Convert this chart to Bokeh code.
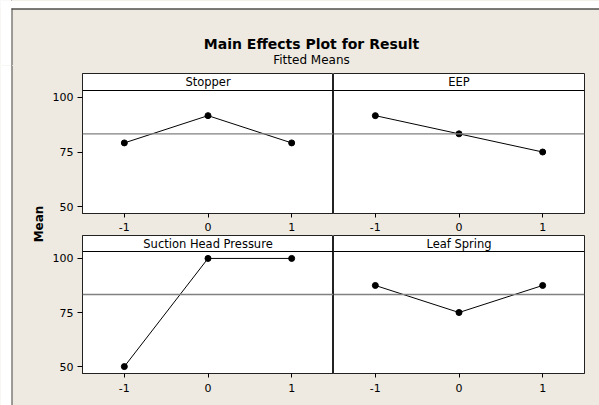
import numpy as np
from bokeh.plotting import figure
from bokeh.layouts import row, column
from bokeh.models import Range1d, Span, FixedTicker
from bokeh.core.properties import value
from bokeh.embed import file_html
from bokeh.resources import INLINE

# ---------------- data ----------------
factors = ["Stopper", "EEP", "Suction Head Pressure", "Leaf Spring"]
levels = [-1, 0, 1]
stopper = [79.17, 91.67, 79.17]
eep = [91.67, 83.33, 75.0]
suction = [50.0, 100.0, 100.0]
leaf = [87.5, 75.0, 87.5]
y_ticks = [50, 75, 100]
x_tick_labels = ["-1", "0", "1"]
title_text = "Main Effects Plot for Result"
subtitle_text = "Fitted Means"
ylabel_text = "Mean"

grand_mean = float(np.mean(stopper + eep + suction + leaf))

# ---------------- style ----------------
BG = "#EEEAE1"
FONT = "DejaVu Sans"
Y_LO = 46.8
STRIP_LINE = 103.2

W = 599
H = 405
LEFT_W = 48
HEAD_H = 65
SPLIT = 235


def deco_fig(w, h):
    p = figure(width=w, height=h, x_range=Range1d(0, w), y_range=Range1d(h, 0),
               output_backend="svg", toolbar_location=None, title=None,
               x_axis_location=None, y_axis_location=None,
               min_border_left=0, min_border_right=0, min_border_top=0, min_border_bottom=0)
    p.background_fill_color = BG
    p.border_fill_color = BG
    p.outline_line_color = None
    p.xgrid.visible = False
    p.ygrid.visible = False
    return p


# header: white margin, frame lines, title and subtitle
head = deco_fig(W, HEAD_H)
head.quad(left=[0], right=[W], top=[0], bottom=[8], fill_color="white", line_color=None)
head.quad(left=[0], right=[11], top=[0], bottom=[HEAD_H], fill_color="white", line_color=None)
head.segment(x0=[11], y0=[8.5], x1=[W], y1=[8.5], line_color="black", line_width=1)
head.segment(x0=[11.5], y0=[8], x1=[11.5], y1=[HEAD_H], line_color="#444444", line_width=1)
head.text(x=[311], y=[43], text=[title_text], text_font=value(FONT), text_font_style="bold",
          text_font_size="14px", text_align="center", text_baseline="alphabetic", text_color="black")
head.text(x=[311], y=[59], text=[subtitle_text], text_font=value(FONT),
          text_font_size="12px", text_align="center", text_baseline="alphabetic", text_color="black")

# left column: white margin, frame line, y label
left = deco_fig(LEFT_W, H - HEAD_H)
left.quad(left=[0], right=[11], top=[0], bottom=[H - HEAD_H], fill_color="white", line_color=None)
left.segment(x0=[11.5], y0=[0], x1=[11.5], y1=[H - HEAD_H], line_color="#444444", line_width=1)
left.text(x=[38], y=[223.5 - HEAD_H], text=[ylabel_text], angle=np.pi / 2,
          text_font=value(FONT), text_font_style="bold", text_font_size="12px",
          text_align="center", text_baseline="middle", text_color="black")


def panel(name, vals, w, h, mbl, mbr, mbt, mbb, y_end, show_y, x_standoff):
    p = figure(width=w, height=h, x_range=Range1d(-1.5, 1.5), y_range=Range1d(Y_LO, y_end),
               output_backend="svg", toolbar_location=None, title=None,
               x_axis_location="below", y_axis_location="left" if show_y else None,
               min_border_left=mbl, min_border_right=mbr, min_border_top=mbt, min_border_bottom=mbb)
    p.background_fill_color = "white"
    p.border_fill_color = BG
    p.outline_line_color = "#222222"
    p.outline_line_width = 1
    p.xgrid.visible = False
    p.ygrid.visible = False

    p.xaxis.ticker = FixedTicker(ticks=levels)
    p.xaxis.major_label_overrides = {lv: lab for lv, lab in zip(levels, x_tick_labels)}
    p.xaxis.major_label_standoff = x_standoff
    p.xaxis.major_tick_out = 4
    axes = [p.xaxis[0]]
    if show_y:
        p.yaxis.ticker = FixedTicker(ticks=y_ticks)
        p.yaxis.major_label_standoff = 4
        p.yaxis.major_tick_out = 5
        axes.append(p.yaxis[0])
    for ax in axes:
        ax.minor_tick_line_color = None
        ax.major_tick_in = 0
        ax.major_tick_line_color = "black"
        ax.axis_line_color = "#222222"
        ax.major_label_text_font = FONT
        ax.major_label_text_font_size = "11px"
        ax.major_label_text_color = "black"

    # strip header
    p.add_layout(Span(location=STRIP_LINE, dimension="width", line_color="black", line_width=1))
    p.text(x=[0], y=[(STRIP_LINE + y_end) / 2], text=[name], text_font=value(FONT),
           text_font_size="11.5px", text_align="center", text_baseline="middle", text_color="black")

    # grand mean reference line
    p.add_layout(Span(location=grand_mean, dimension="width", line_color="#808080", line_width=1.3))

    p.line(levels, vals, line_color="black", line_width=1)
    p.scatter(levels, vals, size=6, marker="circle", fill_color="black", line_color="black")
    return p


TOP_H = SPLIT - HEAD_H
BOT_H = H - SPLIT
LW = 333 - LEFT_W
RW = W - 333
tl = panel(factors[0], stopper, LW, TOP_H, 34, 0, 8, 22, 111.0, True, 5)
tr = panel(factors[1], eep, RW, TOP_H, 0, 15, 8, 22, 111.0, False, 5)
bl = panel(factors[2], suction, LW, BOT_H, 34, 0, 0, 32, 110.6, True, 6)
br = panel(factors[3], leaf, RW, BOT_H, 0, 15, 0, 32, 110.6, False, 6)

bg_style = {"background-color": BG}
margin_style = {"background": f"linear-gradient(to right, white 0px, white 11px, #444444 11px, #444444 12px, {BG} 12px)"}
top_row = row(tl, tr, styles=bg_style)
bot_row = row(bl, br, styles=bg_style)
grid = column(top_row, bot_row, styles=bg_style)
body = row(left, grid, styles=margin_style)
layout = column(head, body, styles=margin_style)

open("out.html", "w").write(file_html(layout, INLINE))
